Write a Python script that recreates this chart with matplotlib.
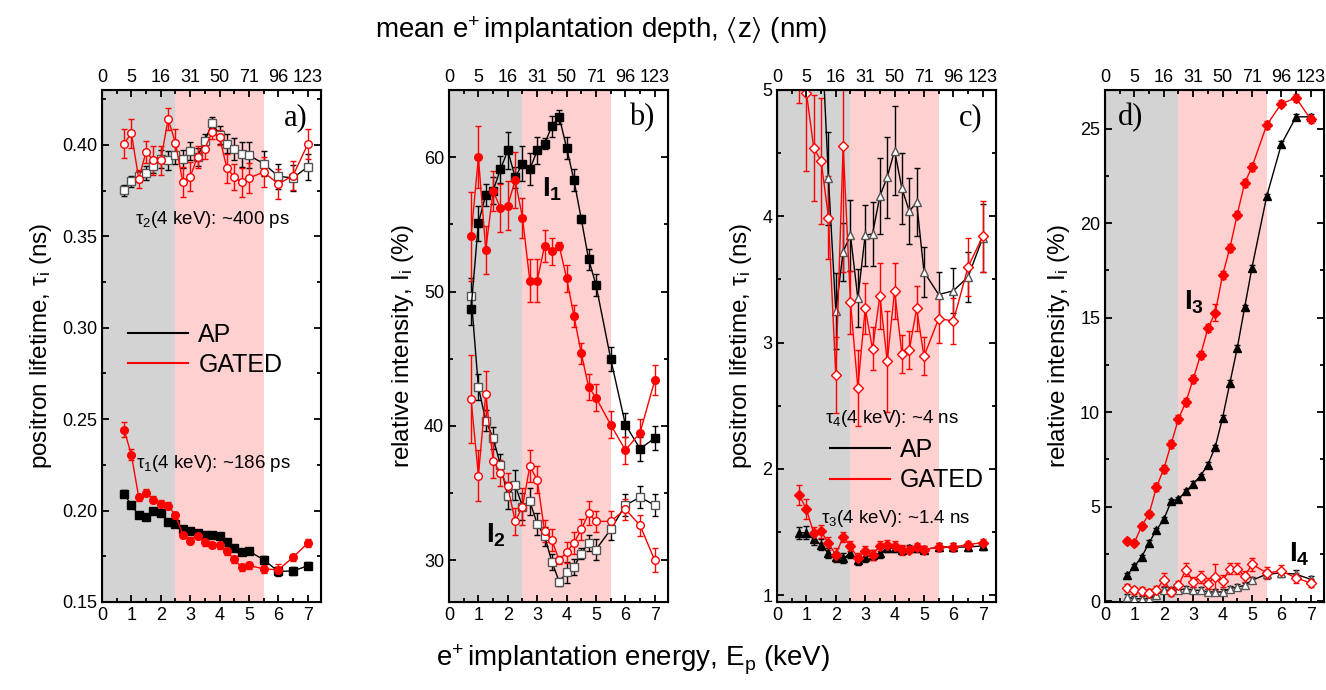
import matplotlib
matplotlib.use("Agg")
import matplotlib.pyplot as plt
from matplotlib.lines import Line2D
from matplotlib.ticker import MultipleLocator

plt.rcParams["font.family"] = ["Liberation Sans", "DejaVu Sans"]
plt.rcParams["mathtext.fontset"] = "custom"
plt.rcParams["mathtext.rm"] = "Liberation Sans"
plt.rcParams["mathtext.it"] = "Liberation Sans:italic"
plt.rcParams["mathtext.bf"] = "Liberation Sans:bold"

# %% Data
energy = [0.75, 1.0, 1.25, 1.5, 1.75, 2.0, 2.25, 2.5, 2.75, 3.0, 3.25, 3.5,
          3.75, 4.0, 4.25, 4.5, 4.75, 5.0, 5.5, 6.0, 6.5, 7.0]
depth_ticks = [0, 1, 2, 3, 4, 5, 6, 7]
depth_labels = ["0", "5", "16", "31", "50", "71", "96", "123"]

# a) lifetimes tau1 / tau2 (ns)
tau1_ap = [0.2092, 0.2029, 0.1974, 0.1963, 0.1996, 0.1987, 0.1936, 0.1929, 0.1899, 0.1888, 0.1877,
           0.1868, 0.1866, 0.1859, 0.1828, 0.1795, 0.1775, 0.1778, 0.1731, 0.1667, 0.1670, 0.1698]
tau1_ap_err = [0.002, 0.0015, 0.0015, 0.0015, 0.0015, 0.0015, 0.0015, 0.0015, 0.0015, 0.0015, 0.0015,
               0.0015, 0.0015, 0.0015, 0.0015, 0.0015, 0.0015, 0.0015, 0.002, 0.0025, 0.002, 0.002]
tau1_gated = [0.2443, 0.2304, 0.2073, 0.2097, 0.2060, 0.2038, 0.2027, 0.1974, 0.1868, 0.1835, 0.1863,
              0.1828, 0.1813, 0.1810, 0.1777, 0.1734, 0.1690, 0.1700, 0.1681, 0.1676, 0.1745, 0.1822]
tau1_gated_err = [0.004, 0.003, 0.002, 0.002, 0.002, 0.002, 0.002, 0.002, 0.002, 0.002, 0.002,
                  0.002, 0.0015, 0.002, 0.002, 0.002, 0.002, 0.002, 0.002, 0.003, 0.002, 0.002]
tau2_ap = [0.3751, 0.3801, 0.3828, 0.3847, 0.3887, 0.3921, 0.3915, 0.3943, 0.3924, 0.3967, 0.3935,
           0.4022, 0.4120, 0.4054, 0.4007, 0.3976, 0.3948, 0.3943, 0.3897, 0.3828, 0.3819, 0.3880]
tau2_ap_err = [0.003, 0.003, 0.003, 0.004, 0.004, 0.005, 0.005, 0.005, 0.005, 0.005, 0.005,
               0.004, 0.003, 0.005, 0.005, 0.006, 0.007, 0.007, 0.007, 0.007, 0.007, 0.007]
tau2_gated = [0.4007, 0.4063, 0.3814, 0.3963, 0.3915, 0.3915, 0.4142, 0.4009, 0.3797, 0.3825, 0.3935,
              0.3980, 0.4072, 0.4041, 0.3871, 0.3825, 0.3795, 0.3819, 0.3851, 0.3786, 0.3832, 0.4004]
tau2_gated_err = [0.008, 0.008, 0.005, 0.006, 0.008, 0.008, 0.006, 0.008, 0.008, 0.008, 0.006,
                  0.006, 0.004, 0.004, 0.008, 0.007, 0.008, 0.008, 0.008, 0.008, 0.008, 0.008]

# b) intensities I1 / I2 (%)
i1_ap = [48.7, 55.1, 57.2, 57.5, 59.1, 60.5, 58.5, 59.5, 59.1, 60.5, 61.0,
         62.3, 63.0, 60.7, 58.3, 55.4, 52.4, 50.5, 45.0, 40.1, 38.3, 39.1]
i1_ap_err = [1.2, 1.3, 0.8, 1.0, 1.0, 1.4, 0.8, 1.3, 1.2, 1.0, 0.4,
             0.8, 0.5, 0.8, 0.8, 0.3, 0.8, 0.8, 0.9, 0.9, 0.9, 0.9]
i1_gated = [54.1, 60.0, 53.1, 57.5, 56.2, 56.4, 58.3, 55.5, 50.8, 50.8, 53.4,
            53.0, 53.4, 51.0, 48.2, 45.4, 42.9, 42.1, 40.1, 38.2, 39.5, 43.4]
i1_gated_err = [3.3, 2.3, 1.8, 1.5, 1.8, 1.8, 2.1, 1.5, 1.6, 1.6, 1.2,
                1.0, 0.3, 1.0, 0.8, 0.8, 1.0, 1.0, 1.0, 1.0, 1.0, 1.1]
i2_ap = [49.7, 42.9, 40.4, 39.1, 37.1, 34.8, 35.6, 34.0, 34.4, 32.7, 31.8,
         29.9, 28.4, 29.1, 29.5, 30.5, 31.3, 30.8, 32.3, 34.1, 34.7, 34.1]
i2_ap_err = [1.3, 1.0, 0.8, 0.8, 0.8, 1.0, 1.1, 1.0, 1.0, 0.8, 0.7,
             0.6, 0.3, 0.8, 0.6, 0.4, 0.6, 0.8, 0.8, 0.8, 0.8, 0.8]
i2_gated = [42.0, 36.3, 42.4, 37.4, 36.5, 35.5, 32.9, 34.0, 37.0, 36.0, 32.2,
            31.5, 30.0, 30.6, 31.3, 32.3, 33.5, 32.9, 32.9, 33.8, 32.6, 30.0]
i2_gated_err = [3.3, 1.9, 1.7, 1.3, 1.0, 1.0, 1.0, 1.4, 1.2, 1.0, 0.8,
                0.8, 0.3, 0.8, 0.8, 0.8, 0.9, 0.8, 0.8, 0.8, 0.8, 0.9]

# c) lifetimes tau3 / tau4 (ns)
tau3_ap = [1.49, 1.495, 1.44, 1.40, 1.33, 1.30, 1.29, 1.33, 1.28, 1.30, 1.32,
           1.33, 1.37, 1.37, 1.36, 1.37, 1.37, 1.36, 1.38, 1.38, 1.38, 1.39]
tau3_ap_err = [0.05, 0.05, 0.04, 0.04, 0.04, 0.04, 0.04, 0.04, 0.04, 0.04, 0.04,
               0.04, 0.03, 0.03, 0.03, 0.03, 0.03, 0.03, 0.03, 0.03, 0.03, 0.03]
tau3_gated = [1.795, 1.68, 1.49, 1.505, 1.41, 1.32, 1.46, 1.39, 1.29, 1.35, 1.32,
              1.39, 1.395, 1.39, 1.355, 1.36, 1.38, 1.36, 1.38, 1.38, 1.40, 1.415]
tau3_gated_err = [0.08, 0.08, 0.05, 0.05, 0.05, 0.05, 0.04, 0.04, 0.04, 0.04, 0.04,
                  0.04, 0.04, 0.04, 0.04, 0.03, 0.03, 0.03, 0.03, 0.03, 0.03, 0.03]
tau4_ap = [7.5, 6.8, 6.2, 5.55, 4.30, 3.25, 3.72, 3.85, 3.35, 3.85, 3.86,
           4.16, 4.31, 4.52, 4.22, 4.04, 4.11, 3.56, 3.38, 3.41, 3.52, 3.83]
tau4_ap_err = [0.4, 0.4, 0.4, 0.4, 0.37, 0.3, 0.23, 0.28, 0.23, 0.24, 0.25,
               0.3, 0.32, 0.35, 0.28, 0.26, 0.27, 0.2, 0.18, 0.18, 0.2, 0.27]
tau4_gated = [5.4, 4.98, 4.54, 4.44, 3.99, 2.74, 4.56, 3.32, 2.64, 3.27, 2.95,
              3.37, 2.85, 3.41, 2.91, 2.94, 3.27, 2.89, 3.19, 3.17, 3.60, 3.84]
tau4_gated_err = [0.5, 0.62, 0.42, 0.5, 0.33, 0.3, 1.0, 0.25, 0.3, 0.2, 0.17,
                  0.26, 0.4, 0.22, 0.15, 0.15, 0.18, 0.15, 0.19, 0.18, 0.23, 0.28]

# d) intensities I3 / I4 (%)
i3_ap = [1.37, 1.84, 2.34, 3.09, 3.76, 4.33, 5.27, 5.41, 5.80, 6.21, 6.63,
         7.22, 8.16, 9.70, 11.56, 13.4, 15.54, 17.65, 21.42, 24.18, 25.63, 25.63]
i3_ap_err = [0.12, 0.12, 0.12, 0.12, 0.12, 0.12, 0.12, 0.12, 0.12, 0.12, 0.12,
             0.12, 0.12, 0.15, 0.15, 0.15, 0.15, 0.15, 0.15, 0.15, 0.15, 0.15]
i3_gated = [3.19, 3.09, 3.99, 4.61, 6.03, 6.99, 8.32, 9.65, 10.53, 11.74, 13.03,
            14.44, 15.26, 17.25, 18.70, 20.46, 22.12, 22.98, 25.19, 26.33, 26.63, 25.49]
i3_gated_err = [0.15, 0.15, 0.15, 0.15, 0.2, 0.2, 0.2, 0.2, 0.2, 0.2, 0.2,
                0.2, 0.45, 0.2, 0.2, 0.2, 0.2, 0.2, 0.2, 0.2, 0.2, 0.2]
i4_ap = [0.21, 0.12, 0.12, 0.12, 0.34, 0.57, 0.57, 0.57, 0.66, 0.57, 0.57,
         0.48, 0.48, 0.48, 0.66, 0.74, 0.83, 1.10, 1.42, 1.49, 1.42, 1.15]
i4_ap_err = [0.15, 0.15, 0.15, 0.15, 0.15, 0.15, 0.15, 0.15, 0.15, 0.15, 0.15,
             0.15, 0.15, 0.15, 0.15, 0.15, 0.15, 0.15, 0.2, 0.2, 0.2, 0.2]
i4_gated = [0.71, 0.57, 0.53, 0.43, 0.60, 1.13, 0.48, 0.83, 1.67, 1.01, 1.28,
            0.92, 1.28, 1.06, 1.72, 1.72, 1.31, 1.95, 1.49, 1.60, 1.22, 0.96]
i4_gated_err = [0.2, 0.2, 0.2, 0.2, 0.2, 0.35, 0.2, 0.25, 0.35, 0.25, 0.3,
                0.3, 0.7, 0.3, 0.3, 0.3, 0.3, 0.35, 0.3, 0.3, 0.25, 0.2]

# %% Style
RED = "#ff0000"
GREY_EDGE = "#555555"
SHADE_GREY = "#d3d3d3"
SHADE_PINK = "#ffd0d0"

fig = plt.figure(figsize=(13.26, 6.9), dpi=100)
W, H = 1326.0, 690.0
lefts = [102, 449, 777, 1105]
axes = [fig.add_axes([l / W, 1 - 602 / H, 219 / W, 512 / H]) for l in lefts]


def series(ax, y, err, color, marker, filled, ms=5.5, edge=None):
    face = color if filled else "white"
    ec = color if edge is None else edge
    ax.errorbar(energy, y, yerr=err, color=color, ecolor=color, lw=1.0,
                elinewidth=1.0, capsize=2.5, capthick=1.0, marker=marker,
                ms=ms, mfc=face, mec=ec, mew=1.0, zorder=3)


def frame(ax, ylim, major, minor, fmt=None):
    ax.set_xlim(0, 7.45)
    ax.set_ylim(*ylim)
    ax.axvspan(0, 2.5, color=SHADE_GREY, lw=0, zorder=0)
    ax.axvspan(2.5, 5.5, color=SHADE_PINK, lw=0, zorder=0)
    ax.xaxis.set_major_locator(MultipleLocator(1))
    ax.xaxis.set_minor_locator(MultipleLocator(0.5))
    ax.yaxis.set_major_locator(MultipleLocator(major))
    ax.yaxis.set_minor_locator(MultipleLocator(minor))
    if fmt:
        ax.yaxis.set_major_formatter(fmt)
    ax.tick_params(which="both", direction="in", right=True, labelsize=13, width=1.3)
    ax.tick_params(which="major", length=5)
    ax.tick_params(which="minor", length=3)
    for s in ax.spines.values():
        s.set_linewidth(1.5)
    top = ax.twiny()
    top.set_xlim(ax.get_xlim())
    top.set_xticks(depth_ticks)
    top.set_xticklabels(depth_labels)
    top.xaxis.set_minor_locator(MultipleLocator(0.5))
    top.tick_params(which="both", direction="in", labelsize=13, width=1.3)
    top.tick_params(which="major", length=5, pad=3)
    top.tick_params(which="minor", length=3)


def panel_letter(ax, s, x, ha):
    ax.text(x, 0.975, s, transform=ax.transAxes, ha=ha, va="top",
            fontsize=22, family="Liberation Serif", zorder=5)


def legend(ax, x, y):
    handles = [Line2D([], [], color="black", lw=1.5), Line2D([], [], color=RED, lw=1.5)]
    ax.legend(handles, ["AP", "GATED"], loc="upper left", bbox_to_anchor=(x, y),
              frameon=False, fontsize=18, handlelength=2.4, handletextpad=0.4,
              labelspacing=0.25, borderpad=0, borderaxespad=0)


tau_lbl = r"positron lifetime, $\mathregular{\tau_i}$ (ns)"
int_lbl = r"relative intensity, $\mathregular{I_i}$ (%)"

# a)
ax = axes[0]
frame(ax, (0.15, 0.43), 0.05, 0.025, "{x:.2f}")
series(ax, tau2_ap, tau2_ap_err, "black", "s", False, edge=GREY_EDGE)
series(ax, tau2_gated, tau2_gated_err, RED, "o", False)
series(ax, tau1_ap, tau1_ap_err, "black", "s", True)
series(ax, tau1_gated, tau1_gated_err, RED, "o", True)
ax.text(1.12, 0.359, r"$\mathregular{\tau_2}$(4 keV): ~400 ps", fontsize=13.5, va="center")
ax.text(1.16, 0.226, r"$\mathregular{\tau_1}$(4 keV): ~186 ps", fontsize=13.5, va="center")
legend(ax, 0.12, 0.545)
panel_letter(ax, "a)", 0.94, "right")
ax.set_ylabel(tau_lbl, fontsize=17.5, labelpad=6)

# b)
ax = axes[1]
frame(ax, (26.9, 65.0), 10, 5)
series(ax, i2_ap, i2_ap_err, "black", "s", False, edge=GREY_EDGE)
series(ax, i2_gated, i2_gated_err, RED, "o", False)
series(ax, i1_ap, i1_ap_err, "black", "s", True)
series(ax, i1_gated, i1_gated_err, RED, "o", True)
ax.text(3.15, 57.6, r"$\mathbf{I_1}$", fontsize=20, va="center", zorder=5)
ax.text(1.25, 31.9, r"$\mathbf{I_2}$", fontsize=20, va="center", zorder=5)
panel_letter(ax, "b)", 0.94, "right")
ax.set_ylabel(int_lbl, fontsize=17.5, labelpad=6)

# c)
ax = axes[2]
frame(ax, (0.945, 5.0), 1, 0.5)
series(ax, tau4_ap, tau4_ap_err, "black", "^", False, ms=6, edge=GREY_EDGE)
series(ax, tau4_gated, tau4_gated_err, RED, "D", False, ms=5.5)
series(ax, tau3_ap, tau3_ap_err, "black", "^", True, ms=6)
series(ax, tau3_gated, tau3_gated_err, RED, "D", True, ms=5.5)
ax.text(1.64, 2.40, r"$\mathregular{\tau_4}$(4 keV): ~4 ns", fontsize=13.5, va="center")
ax.text(1.5, 1.61, r"$\mathregular{\tau_3}$(4 keV): ~1.4 ns", fontsize=13.5, va="center")
legend(ax, 0.24, 0.32)
panel_letter(ax, "c)", 0.94, "right")
ax.set_ylabel(tau_lbl, fontsize=17.5, labelpad=6)

# d)
ax = axes[3]
frame(ax, (-0.05, 27.05), 5, 2.5)
series(ax, i4_ap, i4_ap_err, "black", "^", False, ms=6, edge=GREY_EDGE)
series(ax, i4_gated, i4_gated_err, RED, "D", False, ms=5.5)
series(ax, i3_ap, i3_ap_err, "black", "^", True, ms=6)
series(ax, i3_gated, i3_gated_err, RED, "D", True, ms=5.5)
ax.text(2.7, 15.8, r"$\mathbf{I_3}$", fontsize=20, va="center", zorder=5)
ax.text(6.25, 2.5, r"$\mathbf{I_4}$", fontsize=20, va="center", zorder=5)
panel_letter(ax, "d)", 0.06, "left")
ax.set_ylabel(int_lbl, fontsize=17.5, labelpad=6)

fig.text(0.453, 0.956, r"mean e$^{+}\!$ implantation depth, $\mathregular{\langle z\rangle}$ (nm)",
         ha="center", va="center", fontsize=20)
fig.text(0.477, 0.043, r"e$^{+}\!$ implantation energy, E$_\mathregular{p}$ (keV)",
         ha="center", va="center", fontsize=20)

fig.savefig("out.png", dpi=100)
